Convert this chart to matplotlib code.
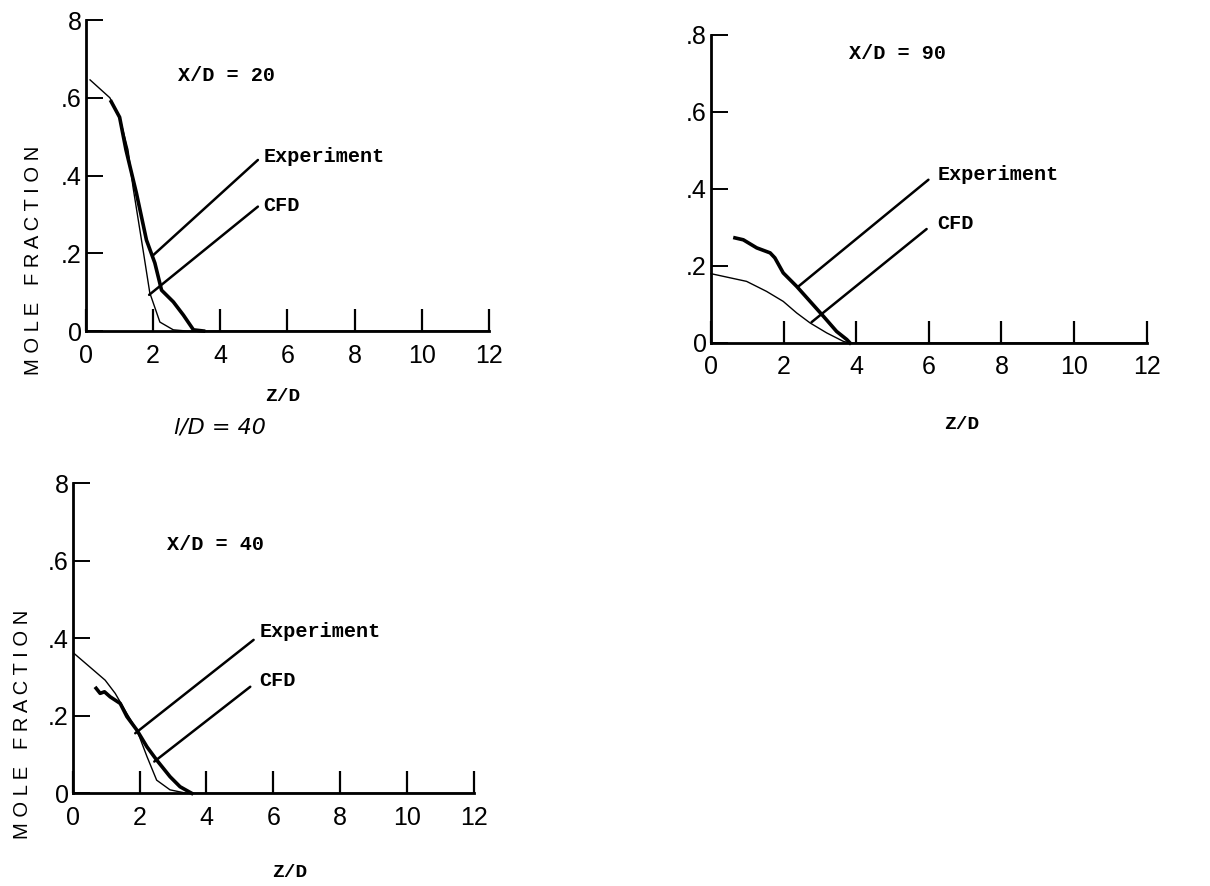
import matplotlib
matplotlib.use("Agg")
import matplotlib.pyplot as plt

# x/D = 20
z20_cfd = [0.12, 0.71, 1.0, 1.25, 1.4, 1.7, 1.9, 2.2, 2.6, 3.0, 12.0]
c20_cfd = [0.646, 0.60, 0.55, 0.466, 0.37, 0.208, 0.098, 0.023, 0.003, 0.0, 0.0]
z20_exp = [0.75, 1.0, 1.19, 1.5, 1.8, 2.05, 2.25, 2.6, 2.9, 3.2, 3.5]
c20_exp = [0.59, 0.55, 0.466, 0.355, 0.234, 0.175, 0.105, 0.075, 0.041, 0.003, 0.0]

# x/D = 90
z90_cfd = [0.0, 0.98, 1.53, 1.99, 2.36, 2.73, 3.19, 3.65, 3.83, 12.0]
c90_cfd = [0.18, 0.16, 0.134, 0.108, 0.078, 0.052, 0.026, 0.004, 0.0, 0.0]
z90_exp = [0.66, 0.89, 1.26, 1.63, 1.76, 1.99, 2.36, 2.73, 3.10, 3.46, 3.74, 3.83]
c90_exp = [0.273, 0.268, 0.247, 0.234, 0.221, 0.182, 0.147, 0.108, 0.069, 0.030, 0.009, 0.0]

# x/D = 40
z40_cfd = [0.04, 0.62, 0.97, 1.27, 1.62, 1.92, 2.22, 2.51, 2.91, 3.41, 12.0]
c40_cfd = [0.361, 0.318, 0.292, 0.258, 0.206, 0.163, 0.095, 0.034, 0.009, 0.0, 0.0]
z40_exp = [0.70, 0.82, 0.95, 1.12, 1.42, 1.62, 1.92, 2.22, 2.51, 2.91, 3.21, 3.56]
c40_exp = [0.271, 0.258, 0.262, 0.249, 0.232, 0.198, 0.163, 0.12, 0.086, 0.043, 0.017, 0.0]

xticks = [0, 2, 4, 6, 8, 10, 12]
yticks = [0, 0.2, 0.4, 0.6, 0.8]

mono = ["Liberation Mono", "DejaVu Sans Mono"]
sans = ["Liberation Sans", "DejaVu Sans"]

fig = plt.figure(figsize=(12.1, 8.86), dpi=100)

panels = [
    dict(rect=[0.0711, 0.6264, 0.3329, 0.351], z_cfd=z20_cfd, c_cfd=c20_cfd,
         z_exp=z20_exp, c_exp=c20_exp, title="X/D = 20", tpos=(2.74, 0.658),
         top="8", exp_lead=((5.12, 0.44), (2.0, 0.195)), exp_txt=(5.3, 0.448),
         cfd_lead=((5.12, 0.32), (1.88, 0.093)), cfd_txt=(5.27, 0.324),
         ylab=(-0.13, 0.228), xlab=(0.489, -0.212)),
    dict(rect=[0.5876, 0.6129, 0.3600, 0.3476], z_cfd=z90_cfd, c_cfd=c90_cfd,
         z_exp=z90_exp, c_exp=c90_exp, title="X/D = 90", tpos=(3.8, 0.753),
         top=".8", exp_lead=((5.99, 0.424), (2.41, 0.147)), exp_txt=(6.24, 0.437),
         cfd_lead=((5.94, 0.296), (2.77, 0.054)), cfd_txt=(6.22, 0.31),
         ylab=None, xlab=(0.576, -0.266)),
    dict(rect=[0.0601, 0.1046, 0.3316, 0.3499], z_cfd=z40_cfd, c_cfd=c40_cfd,
         z_exp=z40_exp, c_exp=c40_exp, title="X/D = 40", tpos=(2.81, 0.641),
         top="8", exp_lead=((5.41, 0.396), (1.87, 0.155)), exp_txt=(5.6, 0.417),
         cfd_lead=((5.31, 0.275), (2.44, 0.082)), cfd_txt=(5.59, 0.292),
         ylab=(-0.126, 0.224), xlab=(0.542, -0.257)),
]

for p in panels:
    ax = fig.add_axes(p["rect"])
    ax.plot(p["z_cfd"], p["c_cfd"], color="black", lw=1.0, clip_on=False)
    ax.plot(p["z_exp"], p["c_exp"], color="black", lw=2.6, clip_on=False)
    ax.set_xlim(0, 12)
    ax.set_ylim(0, 0.8)
    for s in ["top", "right"]:
        ax.spines[s].set_visible(False)
    ax.spines["left"].set_linewidth(2.0)
    ax.spines["bottom"].set_linewidth(2.0)
    ax.set_xticks(xticks)
    ax.set_xticklabels([str(t) for t in xticks])
    ax.set_yticks(yticks)
    ax.set_yticklabels(["0", ".2", ".4", ".6", p["top"]])
    ax.tick_params(axis="x", direction="in", length=16, width=1.6, pad=9)
    ax.tick_params(axis="y", direction="in", length=12, width=1.4, pad=3)
    for lab in ax.get_xticklabels() + ax.get_yticklabels():
        lab.set_family(sans)
        lab.set_fontsize(18)

    ax.text(p["tpos"][0], p["tpos"][1], p["title"], family=mono,
            fontweight="bold", fontsize=14.5, va="center", ha="left")
    ax.annotate("", xy=p["exp_lead"][1], xytext=p["exp_lead"][0],
                arrowprops=dict(arrowstyle="-", lw=1.8, color="black",
                                shrinkA=0, shrinkB=0))
    ax.annotate("", xy=p["cfd_lead"][1], xytext=p["cfd_lead"][0],
                arrowprops=dict(arrowstyle="-", lw=1.8, color="black",
                                shrinkA=0, shrinkB=0))
    ax.text(p["exp_txt"][0], p["exp_txt"][1], "Experiment", family=mono,
            fontweight="bold", fontsize=14.5, va="center", ha="left")
    ax.text(p["cfd_txt"][0], p["cfd_txt"][1], "CFD", family=mono,
            fontweight="bold", fontsize=14.5, va="center", ha="left")

    if p["ylab"] is not None:
        ax.text(p["ylab"][0], p["ylab"][1], "M O L E   F R A C T I O N",
                transform=ax.transAxes, rotation=90, family=sans, fontsize=14.5,
                ha="center", va="center")
    ax.text(p["xlab"][0], p["xlab"][1], "Z/D", transform=ax.transAxes,
            family=mono, fontweight="bold", fontsize=14, ha="center", va="center")

# handwritten note under the first panel
fig.text(0.182, 0.517, "l/D = 40", fontsize=16, style="italic",
         ha="center", va="center")

fig.savefig("out.png", dpi=100)
